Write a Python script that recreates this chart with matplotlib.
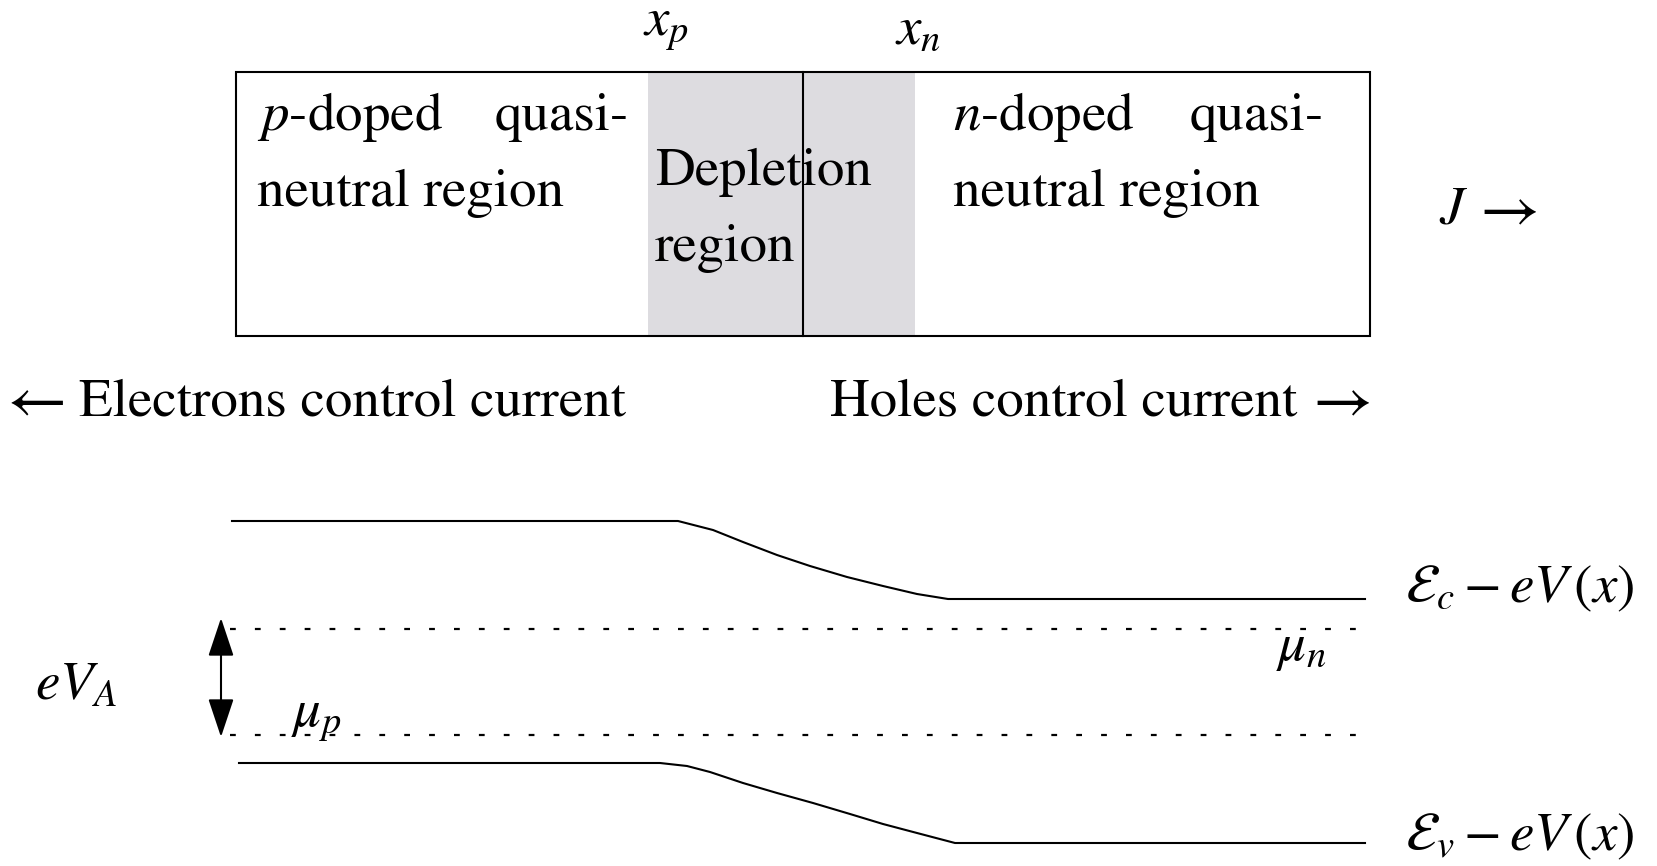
import matplotlib.pyplot as plt
from matplotlib.patches import Rectangle, FancyArrowPatch

plt.rcParams['font.family'] = ['STIXGeneral', 'DejaVu Serif']
plt.rcParams['mathtext.fontset'] = 'stix'

# device geometry (x along the junction, drawn in pixel units)
box_left, box_right = 236, 1370
box_top, box_bottom = 72, 336
x_p, x_junction, x_n = 648, 803, 915

# conduction band edge E_c - eV(x)
ec_x = [232, 678, 713, 743, 777, 810, 847, 883, 917, 948, 1365]
ec_y = [521, 521, 530, 542, 555, 566, 577, 586, 594, 599, 599]
# valence band edge E_v - eV(x)
ev_x = [239, 660, 687, 710, 743, 777, 813, 850, 883, 917, 955, 1365]
ev_y = [763, 763, 766, 772, 783, 793, 803, 814, 824, 833, 843, 843]
# quasi Fermi levels
mu_n_level = 629
mu_p_level = 735
mu_x = [230, 1365]

fig = plt.figure(figsize=(16.57, 8.66), dpi=100)
ax = fig.add_axes([0, 0, 1, 1])
ax.set_xlim(0, 1657)
ax.set_ylim(866, 0)
ax.axis('off')

fs = 39.6
afs = 47  # arrows a bit wider than the text ones

# depletion region shading and the device box
ax.add_patch(Rectangle((x_p, box_top), x_n - x_p, box_bottom - box_top,
                       facecolor='#dddce0', edgecolor='none'))
ax.add_patch(Rectangle((box_left, box_top), box_right - box_left, box_bottom - box_top,
                       facecolor='none', edgecolor='black', lw=1.5))
ax.plot([x_junction, x_junction], [box_top, box_bottom], color='black', lw=1.5)

ax.text(643, 36, r'$x_p$', fontsize=fs, ha='left', va='baseline')
ax.text(895, 44, r'$x_n$', fontsize=fs, ha='left', va='baseline')

ax.text(257, 130, r'$p$-doped', fontsize=fs, ha='left', va='baseline')
ax.text(629, 130, 'quasi-', fontsize=fs, ha='right', va='baseline')
ax.text(257, 206, 'neutral region', fontsize=fs, ha='left', va='baseline')

ax.text(655, 185, 'Depletion', fontsize=fs, ha='left', va='baseline')
ax.text(655, 261, 'region', fontsize=fs, ha='left', va='baseline')

ax.text(953, 130, r'$n$-doped', fontsize=fs, ha='left', va='baseline')
ax.text(1324, 130, 'quasi-', fontsize=fs, ha='right', va='baseline')
ax.text(953, 206, 'neutral region', fontsize=fs, ha='left', va='baseline')

ax.text(1439, 224, r'$J$', fontsize=fs, ha='left', va='baseline')
ax.text(1537, 226, r'$\rightarrow$', fontsize=afs, ha='right', va='baseline')

ax.text(-3, 417, r'$\leftarrow$', fontsize=afs, ha='left', va='baseline')
ax.text(79, 415, 'Electrons control current', fontsize=fs,
        ha='left', va='baseline')
ax.text(1297, 415, 'Holes control current', fontsize=fs,
        ha='right', va='baseline')
ax.text(1370, 417, r'$\rightarrow$', fontsize=afs, ha='right', va='baseline')

# band diagram
ax.plot(ec_x, ec_y, color='black', lw=1.5)
ax.plot(ev_x, ev_y, color='black', lw=1.5)
ax.plot(mu_x, [mu_n_level, mu_n_level], color='black', lw=1.6, ls=(0, (2.6, 8.6)))
ax.plot(mu_x, [mu_p_level, mu_p_level], color='black', lw=1.6, ls=(0, (2.6, 8.6)))

ax.add_patch(FancyArrowPatch((221, 618), (221, 737),
                             arrowstyle='<|-|>,head_length=24,head_width=8',
                             mutation_scale=1, color='black', lw=1.5,
                             shrinkA=0, shrinkB=0))

ax.text(35, 700, r'$eV_A$', fontsize=fs, ha='left', va='baseline')
ax.text(291, 727, r'$\mu_p$', fontsize=fs, ha='left', va='baseline')
ax.text(1276, 660, r'$\mu_n$', fontsize=fs, ha='left', va='baseline')
ax.text(1405, 602, r'$\mathcal{E}_c - eV\,(x)$', fontsize=fs, ha='left', va='baseline')
ax.text(1405, 850, r'$\mathcal{E}_v - eV\,(x)$', fontsize=fs, ha='left', va='baseline')

fig.savefig('out.png', dpi=100)
